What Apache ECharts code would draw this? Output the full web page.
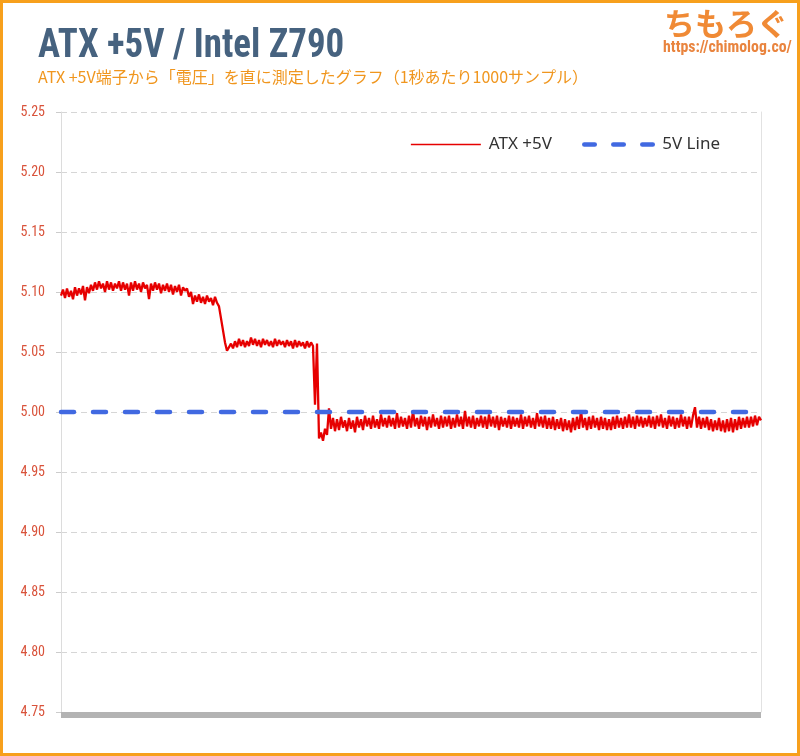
<!DOCTYPE html>
<html>
<head>
<meta charset="utf-8">
<script src="https://cdn.jsdelivr.net/npm/echarts@6.0.0/dist/echarts.min.js"></script>
<style>
html,body{margin:0;padding:0;background:#fff;}
#chart{width:800px;height:756px;}
</style>
</head>
<body>
<div id="chart"></div>
<script>
// ---- data ----
const titleText = "ATX +5V / Intel Z790";
const subtitleText = "ATX +5V端子から「電圧」を直に測定したグラフ（1秒あたり1000サンプル）";
const seriesNames = ["ATX +5V", "5V Line"];
const yTicks = [4.75, 4.80, 4.85, 4.90, 4.95, 5.00, 5.05, 5.10, 5.15, 5.20, 5.25];
const referenceLevel = 5.00;

// plateau ~5.10 V
const segHigh = [
  5.097, 5.102, 5.095, 5.103, 5.096, 5.101, 5.094, 5.104, 5.097, 5.103, 5.098, 5.105, 5.093, 5.104, 5.099,
  5.106, 5.101, 5.108, 5.102, 5.109, 5.103, 5.107, 5.100, 5.109, 5.102, 5.108, 5.101, 5.107, 5.103, 5.109,
  5.101, 5.108, 5.102, 5.107, 5.097, 5.108, 5.101, 5.109, 5.102, 5.107, 5.100, 5.108, 5.103, 5.106, 5.094,
  5.107, 5.101, 5.108, 5.102, 5.107, 5.099, 5.106, 5.101, 5.107, 5.100, 5.106, 5.098, 5.105, 5.100, 5.106,
  5.097, 5.104, 5.101,
  5.103, 5.096, 5.100, 5.090, 5.097, 5.092, 5.098, 5.091, 5.096, 5.090, 5.097, 5.092, 5.095, 5.089, 5.096,
  5.091
];
// step down to ~5.057 V
const segDrop1 = [5.088, 5.078, 5.068, 5.058, 5.051];
const segMid = [
  5.052, 5.057, 5.053, 5.059, 5.054, 5.061, 5.055, 5.060, 5.054, 5.059, 5.055, 5.062, 5.056, 5.061, 5.055,
  5.060, 5.054, 5.061, 5.056, 5.060, 5.055, 5.059, 5.054, 5.061, 5.055, 5.060, 5.056, 5.059, 5.054, 5.060,
  5.055, 5.059, 5.053, 5.060, 5.054, 5.059, 5.055, 5.058, 5.053, 5.059, 5.054, 5.058, 5.055
];
// transient to ~4.99 V
const segDrop2 = [5.006, 5.057, 4.978, 4.983, 4.976, 4.986, 4.981];
const segLow = [
  5.003, 4.986, 4.995, 4.984, 4.994, 4.985, 4.996, 4.987, 4.993, 4.984,
  4.995, 4.986, 4.993, 4.983, 4.996, 4.987, 4.994, 4.985, 4.997, 4.988,
  4.995, 4.986, 4.997, 4.987, 4.994, 4.986, 4.998, 4.988, 4.995, 4.987,
  4.997, 4.988, 4.995, 4.986, 4.999, 4.987, 4.996, 4.988, 4.995, 4.986,
  4.997, 4.987, 5.001, 4.988, 4.995, 4.986, 4.997, 4.988, 4.996, 4.985,
  4.996, 4.987, 4.998, 4.988, 4.995, 4.986, 4.997, 4.987, 4.996, 4.988,
  4.997, 4.986, 4.995, 4.987, 4.998, 4.988, 4.996, 4.986, 5.001, 4.988,
  4.996, 4.987, 4.997, 4.986, 4.995, 4.988, 4.997, 4.987, 4.996, 4.986,
  4.998, 4.988, 4.996, 4.987, 4.997, 4.985, 4.996, 4.988, 4.995, 4.987,
  4.997, 4.986, 4.996, 4.988, 4.995, 4.987, 4.998, 4.986, 4.996, 4.988,
  4.997, 4.987, 4.995, 4.986, 4.999, 4.988, 4.996, 4.987, 4.997, 4.986,
  4.995, 4.986, 4.996, 4.985, 4.994, 4.986, 4.995, 4.984, 4.994, 4.985,
  4.993, 4.983, 4.995, 4.985, 4.996, 4.986, 5.001, 4.987, 4.995, 4.985,
  4.996, 4.986, 4.997, 4.987, 4.995, 4.985, 4.996, 4.986, 4.995, 4.985,
  4.994, 4.985, 4.996, 4.986, 4.997, 4.987, 4.995, 4.986, 4.996, 4.987,
  4.998, 4.987, 4.996, 4.986, 4.997, 4.988, 4.996, 4.987, 4.995, 4.988,
  4.997, 4.987, 4.996, 4.986, 4.997, 4.988, 4.998, 4.987, 4.995, 4.986,
  4.997, 4.988, 4.996, 4.986, 4.995, 4.987, 4.998, 4.988, 4.996, 4.986,
  4.996, 4.987, 4.997, 5.004, 4.987, 4.996, 4.986, 4.995, 4.987, 4.996,
  4.985, 4.994, 4.984, 4.993, 4.985, 4.995, 4.984, 4.993, 4.983, 4.994,
  4.984, 4.995, 4.983, 4.994, 4.985, 4.996, 4.986, 4.995, 4.987, 4.996,
  4.987, 4.996, 4.988, 4.997, 4.989, 4.996, 4.993
];

const atxValues = [].concat(segHigh, segDrop1, segMid, segDrop2, segLow);
const samples = atxValues.map((v, i) => i);
const lineValues = samples.map(() => referenceLevel);

const condensed = '"Roboto Condensed", "Liberation Sans Narrow", "DejaVu Sans Condensed", Roboto, sans-serif';

const chart = echarts.init(document.getElementById('chart'), null, {renderer: 'canvas'});
chart.setOption({
  animation: false,
  backgroundColor: '#ffffff',
  graphic: [
    {type: 'rect', silent: true, shape: {x: 1.5, y: 1.5, width: 797, height: 753},
      style: {fill: 'none', stroke: '#f7a01c', lineWidth: 3}},
    {type: 'text', x: 38, y: 47, scaleX: 0.9,
      style: {text: titleText, font: 'bold 41px ' + condensed, fill: '#46627f', align: 'left', verticalAlign: 'middle'}},
    {type: 'text', x: 38, y: 77,
      style: {text: subtitleText, font: '16px "Noto Sans CJK JP", sans-serif', fill: '#f0961e', align: 'left', verticalAlign: 'middle'}},
    {type: 'text', x: 664, y: 23,
      style: {text: 'ちもろぐ', font: 'bold 31px "Noto Sans CJK JP", sans-serif', align: 'left', verticalAlign: 'middle',
        fill: '#f08a35'}},
    {type: 'text', x: 663, y: 48, scaleX: 0.93,
      style: {text: 'https://chimolog.co/', font: 'bold 17px ' + condensed, fill: '#e9843e', align: 'left', verticalAlign: 'middle'}}
  ],
  legend: {
    data: [
      {name: seriesNames[0], lineStyle: {width: 1.5}},
      {name: seriesNames[1], lineStyle: {width: 4.5, type: [10.5, 18.5], cap: 'round'}}
    ],
    top: 131,
    right: 75,
    itemWidth: 70,
    itemHeight: 14,
    itemGap: 30,
    itemStyle: {opacity: 0},
    textStyle: {fontSize: 17, color: '#333', fontFamily: '"Noto Sans", sans-serif', padding: [0, 0, 0, 3]}
  },
  grid: {left: 61, right: 39, top: 112, bottom: 44, containLabel: false},
  xAxis: {
    type: 'category',
    data: samples,
    boundaryGap: false,
    offset: 3,
    axisLine: {show: true, lineStyle: {color: '#b3b3b3', width: 6, cap: 'butt'}},
    axisTick: {show: false},
    axisLabel: {show: false},
    splitLine: {show: false}
  },
  yAxis: [
    {
      type: 'value',
      min: yTicks[0],
      max: yTicks[yTicks.length - 1],
      interval: 0.05,
      axisLine: {show: true, lineStyle: {color: '#dcdcdc', width: 1}},
      axisTick: {show: true, length: 5, lineStyle: {color: '#cccccc'}},
      axisLabel: {
        color: '#d9533b', fontSize: 14, fontFamily: condensed, margin: 16,
        formatter: v => v.toFixed(2)
      },
      splitLine: {show: true, lineStyle: {color: '#d6d6d6', width: 1, type: [6, 4]}}
    },
    {
      type: 'value',
      position: 'right',
      min: yTicks[0],
      max: yTicks[yTicks.length - 1],
      interval: 0.05,
      axisLine: {show: true, lineStyle: {color: '#e2e2e2', width: 1}},
      axisTick: {show: false},
      axisLabel: {show: false},
      splitLine: {show: false}
    }
  ],
  series: [
    {
      name: seriesNames[0],
      type: 'line',
      data: atxValues,
      symbol: 'none',
      sampling: null,
      z: 2,
      lineStyle: {color: '#e60000', width: 2.3},
      itemStyle: {color: '#e60000'}
    },
    {
      name: seriesNames[1],
      type: 'line',
      data: lineValues,
      symbol: 'none',
      z: 3,
      lineStyle: {color: '#4169e1', width: 4.5, type: [13, 19], cap: 'round'},
      itemStyle: {color: '#4169e1'}
    }
  ]
});
</script>
</body>
</html>
